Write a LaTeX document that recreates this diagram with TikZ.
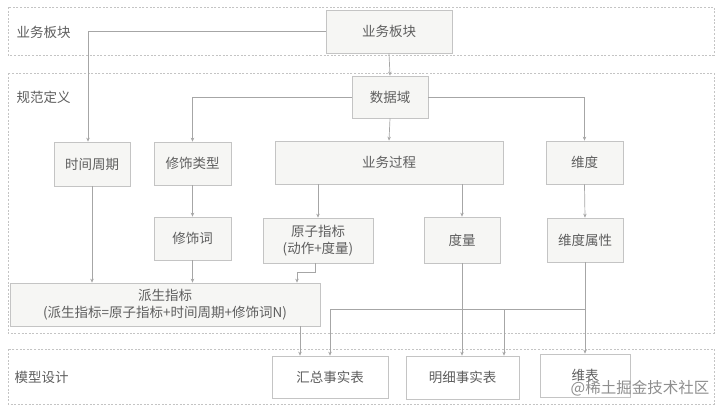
\documentclass[tikz,border=0pt]{standalone}
\usepackage{fontspec}
\setmainfont{Noto Sans CJK SC}
\usepackage{xcolor}
\usepackage{tikz}
\usetikzlibrary{calc, arrows.meta, positioning}

\definecolor{xian}{HTML}{A6A6A6}
\definecolor{bien}{HTML}{C4C4C4}
\definecolor{nen}{HTML}{F6F6F4}
\definecolor{chu}{HTML}{5E5E5E}

\begin{document}
\begin{tikzpicture}[x=1pt, y=-1pt, >={Stealth[length=4pt, width=3.5pt]},
    hop/.style={draw=bien, fill=nen, text=chu, line width=0.7pt, inner sep=1pt,
        align=center, font=\fontsize{13.5}{17}\selectfont},
    vung/.style={draw=bien, line width=0.7pt, dash pattern=on 2pt off 1.6pt},
    nhan/.style={text=chu, font=\fontsize{13.5}{16}\selectfont},
    noi/.style={draw=xian, line width=0.7pt}]
                \useasboundingbox (0,0) rectangle (720,410);
                
                % 1. Các vùng nét đứt
                \draw[vung] (8,7) rectangle (714,55);
                \draw[vung] (8,73) rectangle (714,333);
                \draw[vung] (8,349) rectangle (714,404);
                \node[nhan] (lb1) at (43.5,32) {业务板块};
                \node[nhan] (lb2) at (43.5,97) {规范定义};
                \node[nhan] (lb3) at (41.5,377) {模型设计};
                
                % 2. Các hộp
                \node[hop, minimum width=126pt, minimum height=43pt] (yw) at (389,31.5) {业务板块};
                \node[hop, minimum width=76pt, minimum height=42pt] (sjy) at (390,97) {数据域};
                \node[hop, minimum width=76pt, minimum height=44pt] (sjzq) at (92,164) {时间周期};
                \node[hop, minimum width=77pt, minimum height=43pt] (xslx) at (192.5,163.5) {修饰类型};
                \node[hop, minimum width=228pt, minimum height=43pt] (ywgc) at (389,162.5) {业务过程};
                \node[hop, minimum width=77pt, minimum height=43pt] (wd) at (584.5,162.5) {维度};
                \node[hop, minimum width=77pt, minimum height=43pt] (xsc) at (192.5,238.5) {修饰词};
                \node[hop, minimum width=110pt, minimum height=45pt] (yzzb) at (318,240.5) {原子指标\\(动作+度量)};
                \node[hop, minimum width=76pt, minimum height=46pt] (dl) at (462,240) {度量};
                \node[hop, minimum width=76pt, minimum height=44pt] (wdsx) at (585,240) {维度属性};
                \node[hop, minimum width=310pt, minimum height=43pt] (pszb) at (165,304.5) {派生指标\\(派生指标=原子指标+时间周期+修饰词N)};
                \node[hop, fill=white, minimum width=116pt, minimum height=42pt] (hz) at (330,377) {汇总事实表};
                \node[hop, fill=white, minimum width=113pt, minimum height=43pt] (mx) at (462.5,377.5) {明细事实表};
                \node[hop, fill=white, minimum width=90pt, minimum height=43pt] (wb) at (585,375.5) {维表};
                
                % 3. Các đường nối
                \coordinate (k1) at (297,272);
                \coordinate (bus) at (585,309);
                \draw[noi, ->] (yw.west) -| ([xshift=-4pt]sjzq.north);
                \draw[noi, ->] (yw.south) -- (sjy.north);
                \draw[noi, ->] (sjy.west) -| (xslx.north);
                \draw[noi, ->] (sjy.east) -| (wd.north);
                \draw[noi, ->] (sjy.south) -- (ywgc.north);
                \draw[noi, ->] (sjzq.south) -- (sjzq.south |- pszb.north);
                \draw[noi, ->] (xslx.south) -- (xsc.north);
                \draw[noi, ->] (xsc.south) -- (xsc.south |- pszb.north);
                \draw[noi, ->] (ywgc.south -| yzzb.north) -- (yzzb.north);
                \draw[noi, ->] (ywgc.south -| dl.north) -- (dl.north);
                \draw[noi, ->] (wd.south) -- (wdsx.north);
                \draw[noi, ->] ([xshift=-3pt]yzzb.south) |- (k1) -- (k1 |- pszb.north);
                \draw[noi, ->] ([xshift=-30pt]hz.north |- pszb.south) -- ([xshift=-30pt]hz.north);
                \draw[noi, ->] (dl.south) -- (dl.south |- mx.north);
                \draw[noi, ->] (wdsx.south) -- (wdsx.south |- wb.north);
                \draw[noi, ->] (bus) -| (hz.north);
                \draw[noi, ->] ([xshift=41.5pt]mx.north |- bus) -- ([xshift=41.5pt]mx.north);
                
                % 4. Chữ mờ
                \node[text=chu!70, font=\fontsize{15.5}{18}\selectfont] (wm) at (640,388) {@稀土掘金技术社区};
            \end{tikzpicture}
\end{document}
